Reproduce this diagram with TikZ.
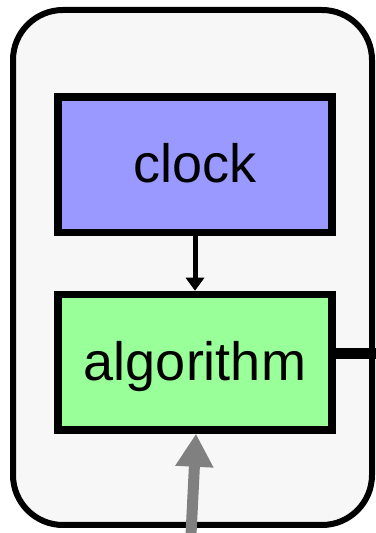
\documentclass[tikz,border=0pt]{standalone}
\usepackage{fontspec}
\setmainfont{Liberation Sans}
\usetikzlibrary{arrows.meta}
\definecolor{outerfill}{HTML}{F7F7F7}
\definecolor{clockfill}{HTML}{9999FF}
\definecolor{algfill}{HTML}{99FF99}
\definecolor{greyarrow}{HTML}{808080}
\begin{document}
\begin{tikzpicture}[x=1pt,y=1pt,
  container/.style={draw=black,line width=6pt,fill=outerfill,rounded corners=50pt,
    minimum width=359pt,minimum height=515pt,inner sep=0pt},
  block/.style={draw=black,line width=7.5pt,minimum width=274pt,minimum height=135.5pt,inner sep=0pt},
  label/.style={font=\fontsize{54}{60}\selectfont,anchor=base,inner sep=0pt}]
\useasboundingbox (0,0) rectangle (375,533);
\node[container] (outer) at (192.5,265.5) {};
\node[block,fill=clockfill] (clock) at (195,368.25) {};
\node[block,fill=algfill] (alg) at (195,170.75) {};
\node[label] (clocktxt) at (195,350.25) {clock};
\node[label] (algtxt) at (195,152.75) {algorithm};
\draw[line width=5pt,-{Triangle[length=13pt,width=18pt]}] (clock.south) -- (alg.north);
\coordinate (rightend) at (376,179);
\draw[line width=11pt] (alg.east |- rightend) -- (rightend);
\coordinate (greystart) at (191,-2);
\draw[greyarrow,line width=11pt,-{Triangle[length=33pt,width=36pt]}] (greystart) -- (alg.south -| 196,0);
\end{tikzpicture}
\end{document}
